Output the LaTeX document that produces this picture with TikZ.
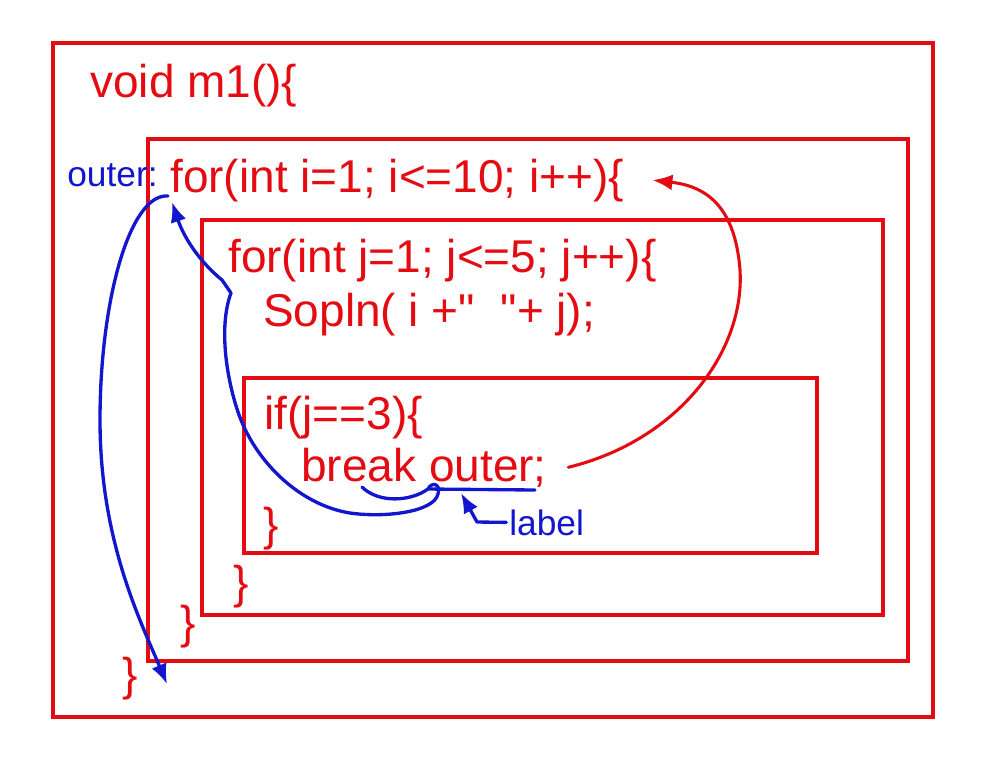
\documentclass[tikz,border=0pt]{standalone}
\usepackage{fontspec}
\setmainfont{Liberation Sans}
\usetikzlibrary{arrows.meta}
\definecolor{codered}{RGB}{228,12,18}
\definecolor{penblue}{RGB}{18,22,205}

\begin{document}
\begin{tikzpicture}[x=0.75pt,y=-0.75pt,
    box/.style={draw=codered,line width=2.4pt},
    code/.style={text=codered,font=\fontsize{34.5}{40}\selectfont,inner sep=0pt,anchor=base west},
    note/.style={text=penblue,font=\fontsize{26.5}{30}\selectfont,inner sep=0pt,anchor=base west},
    pen/.style={draw=penblue,line width=2.5pt,line cap=round,line join=round},
    redpen/.style={draw=codered,line width=2.3pt,line cap=round},
    tip/.style={-{Latex[length=15pt,width=12pt]}}]
    \useasboundingbox (0,0) rectangle (987,769);
    \fill[white] (0,0) rectangle (987,769);
    % nested blocks
    \draw[box] (53,43) rectangle (933,717);
    \draw[box] (148,139) rectangle (908,661);
    \draw[box] (202,220) rectangle (883,615);
    \draw[box] (244,378) rectangle (817,553);
    % code lines
    \node[code] (meth) at (90,97) {void m1()\{};
    \node[note] (outerlbl) at (67,186) {outer:};
    \node[code] (fori) at (170,192) {for(int i=1; i<=10; i++)\{};
    \node[code] (forj) at (228,272) {for(int j=1; j<=5; j++)\{};
    \node[code] (prn) at (263,326) {Sopln( i +\textquotedbl\ \ \textquotedbl+ j);};
    \node[code] (cond) at (264,429) {if(j==3)\{};
    \node[code] (brk) at (301,481) {break outer;};
    \foreach \n/\x/\y in {ifend/263/540,forjend/233/598,foriend/180/638,methend/122/690} {
        \node[code] (\n) at (\x,\y) {\}};
    }
    \node[note] (lbl) at (509,535) {label};
    % pen marks
    \coordinate (ulstart) at (362,487);
    \coordinate (loop) at (428,489);
    \coordinate (ulend) at (535,490);
    \coordinate (target) at (172,202);
    \coordinate (jumpfrom) at (168,196);
    \coordinate (after) at (167,684);
    \draw[pen] (ulstart) .. controls (378,503) and (410,502) .. (loop) -- (ulend);
    \draw[pen,tip] (loop) .. controls (432,481) and (441,484) .. (438,494)
        .. controls (434,512) and (385,518) .. (350,513)
        .. controls (300,505) and (255,462) .. (238,412)
        .. controls (224,370) and (220,322) .. (231,293)
        -- (222,280) .. controls (200,262) and (184,238) .. (target);
    \draw[pen,tip] (jumpfrom) .. controls (130,193) and (100,300) .. (100,420)
        .. controls (100,540) and (140,620) .. (after);
    \draw[pen,tip] ([xshift=-2pt]lbl.west) -- (477,522) -- (461,493);
    \draw[redpen,tip] ([xshift=16pt]brk.east) .. controls (680,440) and (745,350) .. (740,270)
        .. controls (735,205) and (705,186) .. ([xshift=21pt]fori.east);
\end{tikzpicture}
\end{document}
